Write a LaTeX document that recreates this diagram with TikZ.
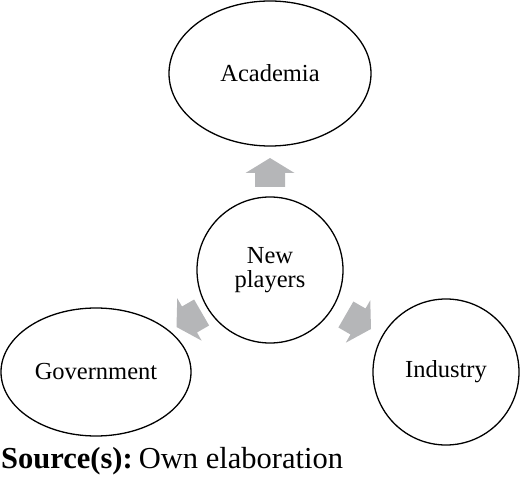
\documentclass[tikz,border=0pt]{standalone}
\usepackage{fontspec}
\setmainfont{Liberation Serif}
\usetikzlibrary{shapes.geometric}
\definecolor{arrowgray}{RGB}{181,182,184}
\tikzset{
  x=1pt, y=-1pt,
  bubble/.style={draw=black, line width=1.3pt, ellipse, inner sep=0pt,
    font=\fontsize{24.5}{24}\selectfont, align=center},
  barrow/.pic={
    \fill[arrowgray] (0,0) -- (-15,24.5) -- (-15,15) -- (-29,15) -- (-29,-15)
      -- (-15,-15) -- (-15,-24.5) -- cycle;
  }
}
\begin{document}
\begin{tikzpicture}
\useasboundingbox (0,0) rectangle (520,492);
\node[bubble, minimum width=202pt, minimum height=145pt] (aca) at (270,73.5) {Academia};
\node[bubble, circle, minimum size=146pt] (np) at (270,270) {New\\players};
\node[bubble, minimum width=190pt, minimum height=128pt] (gov) at (96,372) {Government};
\node[bubble, minimum width=146pt, minimum height=146pt] (ind) at (446,372) {Industry};
\pic[rotate=90] (up) at (270,158) {barrow};
\pic[rotate=210] (left) at (176.5,327) {barrow};
\pic[rotate=-30] (right) at (371,329) {barrow};
\node[anchor=base west, inner sep=0pt, font=\fontsize{30.5}{36}\selectfont] (src) at (1,468) {\textbf{Source(s):}\hspace{0.2em}Own elaboration};
\end{tikzpicture}
\end{document}
